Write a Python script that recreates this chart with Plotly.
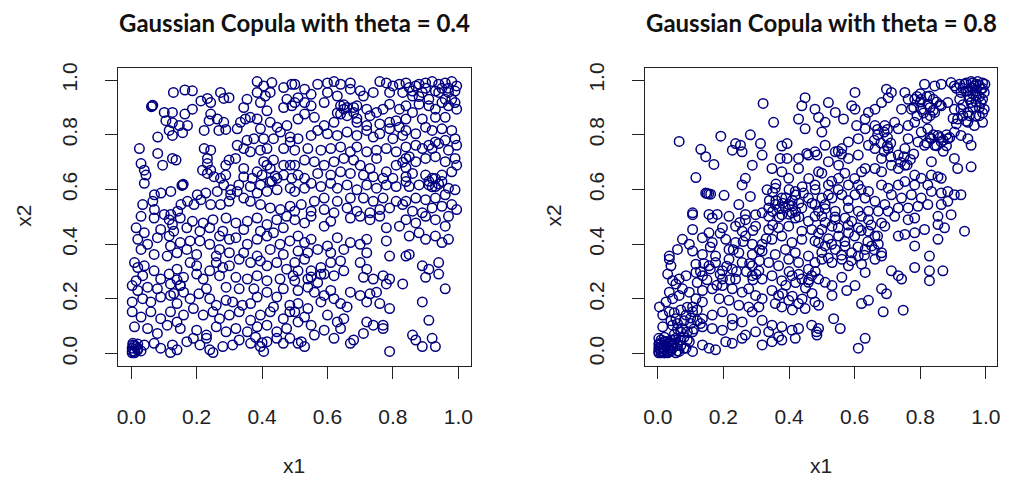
import plotly.graph_objects as go

# ---------------- data ----------------
# Left panel: Gaussian copula, theta = 0.4  -> (x1, x2) pairs
left_upper_left = [
    (0.129,0.955),(0.164,0.964),(0.187,0.961),(0.064,0.906),(0.062,0.903),(0.066,0.908),
    (0.101,0.882),(0.126,0.882),(0.164,0.876),(0.187,0.894),(0.106,0.852),(0.126,0.844),
    (0.147,0.834),(0.116,0.816),(0.081,0.792),(0.126,0.798),(0.157,0.808),(0.172,0.834),
    (0.213,0.924),(0.233,0.933),(0.243,0.918),(0.273,0.955),(0.283,0.933),(0.299,0.936),
    (0.243,0.876),(0.238,0.852),(0.263,0.858),(0.283,0.846),(0.223,0.816),(0.268,0.816),
    (0.289,0.820),(0.324,0.822),(0.334,0.846),(0.349,0.858),(0.364,0.864),(0.385,0.858),
    (0.344,0.900),(0.354,0.930),(0.385,0.955),(0.410,0.942),(0.425,0.955),(0.385,0.995),
    (0.405,0.979),(0.430,0.991),(0.466,0.973),(0.491,0.985),(0.476,0.930),(0.466,0.900),
    (0.491,0.906),(0.395,0.918),(0.415,0.888),(0.425,0.846),(0.446,0.828),(0.395,0.822),
    (0.375,0.786),(0.405,0.786),(0.435,0.786),(0.456,0.810),(0.476,0.834),(0.486,0.792),
    (0.025,0.750),(0.081,0.732),(0.096,0.689),(0.126,0.714),(0.137,0.708),(0.030,0.695),
    (0.040,0.671),(0.045,0.653),(0.040,0.623),(0.157,0.617),(0.155,0.615),(0.159,0.619),
    (0.223,0.750),(0.243,0.744),(0.233,0.714),(0.233,0.695),(0.218,0.671),(0.233,0.659),
    (0.243,0.671),(0.253,0.647),(0.273,0.641),(0.289,0.653),(0.299,0.708),(0.319,0.714),
    (0.289,0.689),(0.324,0.762),(0.344,0.750),(0.354,0.780),(0.364,0.738),(0.395,0.744),
    (0.415,0.750),(0.466,0.750),(0.486,0.774),(0.435,0.708),(0.405,0.702),(0.415,0.689),
    (0.425,0.677),(0.466,0.689),(0.486,0.689),(0.385,0.665),(0.400,0.653),(0.370,0.641),
    (0.344,0.677),(0.344,0.647),(0.329,0.617),(0.364,0.611),(0.395,0.617),(0.425,0.629),
    (0.446,0.641),(0.466,0.653),(0.491,0.641),(0.486,0.605),(0.446,0.599),(0.415,0.593),
    (0.385,0.587),(0.364,0.557),(0.395,0.545),(0.425,0.533),(0.456,0.527),(0.486,0.539),
    (0.344,0.569),(0.324,0.593),(0.304,0.581),(0.299,0.557),(0.273,0.545),(0.243,0.545),
    (0.213,0.563),(0.192,0.545),(0.172,0.557),(0.152,0.545),(0.142,0.521),(0.121,0.509),
    (0.101,0.509),(0.071,0.581),(0.066,0.557),(0.071,0.527),(0.035,0.545),(0.091,0.587),
    (0.121,0.593),(0.202,0.581),(0.228,0.587),(0.263,0.593),(0.283,0.617),(0.304,0.599),
    (0.43,0.63),(0.44,0.65),
]
left_upper_right = [
    (0.50,0.985),(0.53,0.967),(0.57,0.985),(0.60,0.990),(0.62,0.995),(0.64,0.985),(0.67,0.990),
    (0.67,0.967),(0.70,0.961),(0.76,0.995),(0.78,0.990),(0.80,0.979),(0.82,0.985),(0.84,0.990),
    (0.85,0.973),(0.87,0.979),(0.88,0.985),(0.90,0.990),(0.92,0.995),(0.94,0.985),(0.96,0.990),
    (0.98,0.995),(0.995,0.979),(0.97,0.955),(0.94,0.955),(0.89,0.955),(0.86,0.942),(0.83,0.955),
    (0.79,0.955),(0.74,0.955),(0.71,0.942),(0.63,0.942),(0.60,0.955),(0.55,0.948),(0.51,0.936),
    (0.50,0.918),(0.53,0.918),(0.55,0.906),(0.59,0.918),(0.64,0.906),(0.65,0.894),(0.66,0.900),
    (0.68,0.882),(0.64,0.876),(0.69,0.906),(0.72,0.894),(0.73,0.870),(0.75,0.882),(0.77,0.894),
    (0.79,0.912),(0.82,0.894),(0.84,0.906),(0.86,0.882),(0.88,0.912),(0.91,0.906),(0.93,0.894),
    (0.95,0.918),(0.97,0.906),(0.99,0.918),(0.995,0.894),(0.96,0.864),(0.93,0.864),(0.89,0.858),
    (0.84,0.858),(0.81,0.852),(0.79,0.846),(0.76,0.840),(0.72,0.834),(0.69,0.846),(0.62,0.846),
    (0.59,0.834),(0.56,0.864),(0.53,0.876),(0.51,0.858),
    (0.51,0.786),(0.55,0.798),(0.57,0.816),(0.60,0.804),(0.63,0.798),(0.66,0.810),(0.69,0.798),
    (0.72,0.816),(0.74,0.792),(0.76,0.804),(0.79,0.822),(0.82,0.828),(0.84,0.816),(0.83,0.798),
    (0.80,0.786),(0.87,0.804),(0.90,0.828),(0.92,0.816),(0.95,0.822),(0.98,0.816),(0.99,0.786),
    (0.96,0.780),(0.93,0.774),(0.91,0.762),(0.89,0.750),(0.92,0.750),(0.94,0.768),(0.97,0.744),
    (0.995,0.762),(0.87,0.762),(0.84,0.756),(0.81,0.738),(0.78,0.750),(0.75,0.744),(0.72,0.738),
    (0.69,0.756),(0.67,0.738),(0.64,0.756),(0.61,0.750),(0.58,0.744),(0.54,0.750),(0.50,0.744),
    (0.50,0.689),(0.53,0.708),(0.56,0.702),(0.59,0.689),(0.62,0.702),(0.65,0.714),(0.68,0.708),
    (0.70,0.689),(0.73,0.677),(0.75,0.714),(0.78,0.665),(0.81,0.689),(0.84,0.714),(0.87,0.702),
    (0.90,0.714),(0.93,0.720),(0.96,0.702),(0.99,0.714),(0.995,0.689),(0.98,0.665),(0.95,0.653),
    (0.92,0.641),(0.90,0.653),(0.86,0.659),(0.84,0.647),(0.84,0.629),(0.80,0.641),(0.77,0.641),
    (0.74,0.647),(0.71,0.653),(0.67,0.659),(0.64,0.665),(0.61,0.653),(0.57,0.659),(0.53,0.641),
    (0.51,0.653),
    (0.50,0.593),(0.53,0.605),(0.55,0.623),(0.58,0.611),(0.61,0.623),(0.63,0.605),(0.66,0.617),
    (0.69,0.599),(0.72,0.617),(0.75,0.605),(0.78,0.617),(0.81,0.611),(0.85,0.611),(0.88,0.617),
    (0.91,0.617),(0.93,0.611),(0.95,0.629),(0.97,0.605),(0.99,0.599),(0.96,0.581),(0.93,0.569),
    (0.90,0.563),(0.87,0.569),(0.84,0.557),(0.81,0.557),(0.77,0.569),(0.74,0.557),(0.71,0.569),
    (0.67,0.569),(0.63,0.557),(0.59,0.569),(0.56,0.557),(0.52,0.545),(0.50,0.521),(0.55,0.521),
    (0.59,0.527),(0.62,0.515),(0.66,0.533),(0.69,0.521),(0.73,0.515),(0.76,0.527),(0.79,0.533),
    (0.83,0.545),(0.86,0.521),(0.89,0.515),(0.92,0.533),(0.95,0.539),(0.98,0.545),(0.995,0.527),
    (0.86,0.96),(0.88,0.94),(0.90,0.97),(0.91,0.93),(0.93,0.96),(0.95,0.97),(0.97,0.97),
    (0.98,0.93),(0.99,0.96),(0.96,0.93),(0.63,0.88),(0.65,0.91),(0.66,0.87),(0.68,0.90),
    (0.69,0.86),(0.91,0.63),(0.92,0.61),(0.93,0.64),(0.94,0.62),(0.83,0.70),(0.84,0.68),
    (0.85,0.72),
]
left_lower_left = [
    (0.030,0.502),(0.070,0.496),(0.116,0.490),(0.126,0.472),(0.150,0.496),(0.187,0.484),
    (0.220,0.478),(0.250,0.490),(0.290,0.496),(0.320,0.478),(0.355,0.484),(0.385,0.496),
    (0.415,0.472),(0.445,0.490),(0.475,0.502),(0.015,0.460),(0.040,0.442),(0.090,0.454),
    (0.130,0.448),(0.170,0.460),(0.210,0.448),(0.240,0.460),(0.280,0.448),(0.344,0.454),
    (0.395,0.448),(0.435,0.442),(0.465,0.460),
    (0.020,0.418),(0.050,0.400),(0.030,0.381),(0.080,0.424),(0.116,0.430),(0.120,0.394),
    (0.150,0.406),(0.180,0.412),(0.210,0.412),(0.240,0.400),(0.270,0.430),(0.300,0.418),
    (0.320,0.424),(0.355,0.400),(0.385,0.418),(0.415,0.430),(0.455,0.400),(0.485,0.412),
    (0.070,0.363),(0.110,0.357),(0.140,0.369),(0.170,0.381),(0.200,0.363),(0.270,0.381),
    (0.300,0.369),(0.344,0.369),(0.385,0.357),(0.425,0.381),(0.465,0.363),
    (0.010,0.333),(0.020,0.315),(0.035,0.285),(0.015,0.267),(0.040,0.321),(0.070,0.303),
    (0.090,0.273),(0.116,0.291),(0.140,0.309),(0.160,0.279),(0.180,0.333),(0.200,0.291),
    (0.220,0.273),(0.240,0.303),(0.260,0.333),(0.280,0.315),(0.270,0.285),(0.300,0.321),
    (0.330,0.345),(0.365,0.333),(0.395,0.339),(0.415,0.321),(0.445,0.333),(0.475,0.309),
    (0.320,0.279),(0.355,0.273),(0.385,0.285),(0.415,0.267),(0.455,0.273),(0.495,0.285),
    (0.200,0.321),(0.260,0.357),
    (0.003,0.249),(0.020,0.231),(0.050,0.243),(0.080,0.237),(0.003,0.189),(0.035,0.201),
    (0.060,0.189),(0.090,0.207),(0.120,0.213),(0.140,0.183),(0.160,0.225),(0.180,0.201),
    (0.207,0.219),(0.230,0.237),(0.240,0.201),(0.260,0.177),(0.290,0.195),(0.310,0.189),
    (0.340,0.177),(0.365,0.183),(0.385,0.207),(0.415,0.225),(0.445,0.207),(0.465,0.237),
    (0.485,0.177),(0.435,0.171),(0.290,0.243),(0.330,0.237),(0.375,0.237),(0.150,0.249),
    (0.120,0.255),
    (0.003,0.153),(0.030,0.134),(0.060,0.153),(0.090,0.128),(0.120,0.153),(0.140,0.116),
    (0.160,0.141),(0.190,0.165),(0.220,0.141),(0.250,0.153),(0.270,0.128),(0.300,0.141),
    (0.330,0.153),(0.365,0.122),(0.395,0.141),(0.425,0.153),(0.465,0.128),(0.485,0.153),
    (0.010,0.098),(0.050,0.092),(0.080,0.074),(0.110,0.104),(0.150,0.092),(0.200,0.086),
    (0.230,0.068),(0.260,0.098),(0.290,0.080),(0.320,0.092),(0.355,0.080),(0.385,0.098),
    (0.415,0.104),(0.445,0.080),(0.475,0.092),
    (0.005,0.032),(0.003,0.020),(0.010,0.008),(0.015,0.026),(0.005,0.038),(0.020,0.014),
    (0.003,0.003),(0.040,0.032),(0.070,0.038),(0.090,0.020),(0.126,0.032),(0.120,0.004),
    (0.140,0.014),(0.170,0.044),(0.190,0.056),(0.210,0.032),(0.230,0.056),(0.240,0.014),
    (0.250,0.004),(0.280,0.026),(0.310,0.032),(0.330,0.050),(0.365,0.038),(0.395,0.026),
    (0.405,0.008),(0.415,0.044),(0.445,0.056),(0.465,0.038),(0.485,0.056),
    (0.010,0.030),(0.020,0.020),(0.003,0.010),(0.010,0.003),(0.030,0.010),(0.020,0.035),
    (0.14,0.27),(0.15,0.25),(0.13,0.22),(0.38,0.06),(0.40,0.04),
]
left_lower_right = [
    (0.50,0.490),(0.53,0.478),(0.55,0.502),(0.59,0.466),(0.61,0.484),(0.67,0.496),(0.70,0.502),
    (0.73,0.490),(0.76,0.502),(0.78,0.460),(0.82,0.466),(0.84,0.490),(0.87,0.478),(0.90,0.502),
    (0.93,0.490),(0.96,0.466),(0.97,0.502),
    (0.51,0.430),(0.53,0.406),(0.55,0.418),(0.57,0.381),(0.60,0.394),(0.63,0.424),(0.67,0.406),
    (0.70,0.400),(0.72,0.418),(0.72,0.369),(0.78,0.412),(0.79,0.357),(0.84,0.357),(0.85,0.363),
    (0.85,0.430),(0.88,0.442),(0.90,0.418),(0.93,0.430),(0.95,0.406),(0.97,0.418),(0.54,0.369),
    (0.51,0.375),(0.61,0.369),(0.65,0.381),
    (0.50,0.333),(0.53,0.345),(0.51,0.303),(0.55,0.303),(0.58,0.315),(0.61,0.333),(0.64,0.339),
    (0.65,0.303),(0.59,0.291),(0.62,0.285),(0.70,0.333),(0.72,0.309),(0.71,0.279),(0.74,0.273),
    (0.77,0.285),(0.79,0.273),(0.78,0.255),(0.83,0.255),(0.89,0.321),(0.91,0.309),(0.94,0.333),
    (0.90,0.279),(0.94,0.291),(0.50,0.267),(0.54,0.273),
    (0.51,0.231),(0.54,0.243),(0.56,0.225),(0.59,0.213),(0.61,0.231),(0.58,0.189),(0.62,0.201),
    (0.64,0.183),(0.66,0.171),(0.51,0.183),(0.54,0.165),(0.67,0.225),(0.70,0.213),(0.73,0.219),
    (0.75,0.225),(0.72,0.189),(0.76,0.183),(0.79,0.165),(0.96,0.237),(0.89,0.189),
    (0.50,0.153),(0.53,0.134),(0.55,0.104),(0.51,0.116),(0.60,0.141),(0.63,0.116),(0.65,0.128),
    (0.64,0.092),(0.59,0.086),(0.56,0.068),(0.52,0.044),(0.53,0.026),(0.51,0.038),(0.62,0.056),
    (0.67,0.038),(0.68,0.050),(0.71,0.074),(0.72,0.116),(0.74,0.104),(0.77,0.104),(0.77,0.092),
    (0.79,0.008),(0.86,0.068),(0.87,0.050),(0.89,0.026),(0.92,0.056),(0.93,0.026),(0.91,0.122),
    (0.55,0.28),(0.57,0.26),(0.58,0.29),
]

# Right panel: Gaussian copula, theta = 0.8 -> (x1, x2) pairs
right_upper_left = [
    (0.321,0.915),(0.449,0.936),(0.439,0.906),(0.479,0.894),(0.429,0.858),(0.353,0.846),
    (0.449,0.822),(0.065,0.776),(0.192,0.795),(0.282,0.800),(0.237,0.768),(0.252,0.762),
    (0.313,0.768),(0.378,0.759),(0.394,0.768),(0.131,0.747),(0.146,0.720),(0.171,0.692),
    (0.227,0.744),(0.257,0.738),(0.318,0.726),(0.288,0.689),(0.348,0.677),(0.373,0.714),
    (0.394,0.714),(0.429,0.714),(0.459,0.726),(0.454,0.732),(0.479,0.738),(0.378,0.665),
    (0.399,0.641),(0.429,0.677),(0.116,0.644),(0.146,0.587),(0.161,0.583),(0.150,0.586),
    (0.155,0.584),(0.202,0.579),(0.267,0.641),(0.257,0.617),(0.282,0.575),(0.333,0.599),
    (0.358,0.605),(0.378,0.569),(0.399,0.545),(0.419,0.593),(0.444,0.587),(0.459,0.569),
    (0.479,0.617),(0.106,0.515),(0.156,0.509),(0.181,0.509),(0.247,0.545),(0.267,0.509),
    (0.318,0.515),(0.338,0.533),(0.358,0.545),(0.389,0.533),(0.409,0.515),(0.439,0.533),
    (0.479,0.545),(0.350,0.520),(0.370,0.500),(0.400,0.510),(0.420,0.520),(0.380,0.550),
    (0.410,0.560),(0.430,0.500),(0.360,0.560),
    (0.34,0.56),(0.35,0.59),(0.37,0.53),(0.39,0.57),(0.40,0.60),(0.41,0.54),(0.42,0.58),
    (0.43,0.55),(0.44,0.61),(0.36,0.62),(0.46,0.64),(0.48,0.60),(0.47,0.55),
]
right_upper_right = [
    (0.955,0.995),(0.975,0.995),(0.990,0.990),(0.997,0.985),(0.965,0.979),(0.985,0.967),
    (0.945,0.961),(0.995,0.955),(0.970,0.942),(0.955,0.918),(0.985,0.918),(0.995,0.894),
    (0.980,0.870),(0.935,0.985),(0.924,0.955),(0.904,0.979),(0.894,0.991),(0.864,0.985),
    (0.844,0.979),(0.813,0.985),(0.828,0.942),(0.803,0.930),(0.783,0.930),(0.773,0.894),
    (0.803,0.894),(0.823,0.912),(0.844,0.882),(0.864,0.906),(0.884,0.918),(0.904,0.894),
    (0.924,0.894),(0.945,0.882),(0.914,0.858),(0.945,0.846),(0.965,0.834),(0.990,0.846),
    (0.753,0.955),(0.763,0.930),(0.743,0.894),(0.712,0.955),(0.697,0.967),(0.702,0.936),
    (0.682,0.918),(0.662,0.894),(0.642,0.882),(0.632,0.858),(0.601,0.955),(0.591,0.906),
    (0.601,0.894),(0.520,0.918),(0.490,0.864),(0.541,0.882),(0.566,0.858),(0.510,0.846),
    (0.606,0.834),(0.632,0.822),(0.662,0.834),(0.692,0.834),(0.722,0.846),(0.733,0.822),
    (0.763,0.834),(0.783,0.846),(0.803,0.810),(0.823,0.822),(0.834,0.786),(0.854,0.798),
    (0.864,0.774),(0.884,0.786),(0.904,0.810),(0.924,0.798),(0.945,0.786),(0.955,0.762),
    (0.904,0.714),(0.914,0.677),(0.955,0.683),(0.844,0.762),(0.834,0.702),(0.813,0.762),
    (0.793,0.774),(0.763,0.786),(0.753,0.750),(0.733,0.726),(0.702,0.750),(0.682,0.714),
    (0.662,0.750),(0.642,0.762),(0.611,0.786),(0.581,0.774),(0.561,0.750),(0.541,0.738),
    (0.510,0.762),(0.500,0.810),(0.485,0.726),(0.520,0.702),(0.551,0.689),(0.581,0.714),
    (0.611,0.726),(0.632,0.677),(0.621,0.665),(0.662,0.677),(0.682,0.665),(0.712,0.689),
    (0.733,0.677),(0.753,0.689),(0.783,0.653),(0.803,0.641),(0.834,0.653),(0.854,0.647),
    (0.864,0.641),(0.823,0.617),(0.783,0.617),(0.753,0.629),(0.733,0.617),(0.702,0.605),
    (0.682,0.617),(0.642,0.593),(0.611,0.617),(0.581,0.617),(0.551,0.641),(0.520,0.617),
    (0.490,0.665),(0.500,0.569),(0.531,0.569),(0.561,0.581),(0.601,0.581),(0.632,0.569),
    (0.662,0.557),(0.692,0.545),(0.712,0.581),(0.743,0.569),(0.773,0.581),(0.803,0.569),
    (0.834,0.593),(0.864,0.587),(0.884,0.593),(0.904,0.581),(0.924,0.581),(0.864,0.545),
    (0.884,0.557),(0.823,0.545),(0.793,0.539),(0.763,0.533),(0.733,0.533),(0.702,0.521),
    (0.672,0.521),(0.642,0.521),(0.611,0.521),(0.581,0.533),(0.541,0.521),(0.510,0.545),
    (0.490,0.521),
    (0.960,0.970),(0.970,0.960),(0.980,0.980),(0.950,0.940),(0.990,0.930),(0.960,0.990),
    (0.930,0.970),(0.830,0.900),(0.850,0.920),(0.840,0.890),(0.860,0.910),(0.870,0.780),
    (0.880,0.760),(0.890,0.790),(0.690,0.740),(0.700,0.760),(0.710,0.720),(0.550,0.740),
    (0.560,0.730),
    (0.91,0.97),(0.92,0.93),(0.93,0.91),(0.94,0.96),(0.95,0.93),(0.96,0.95),(0.97,0.92),
    (0.98,0.94),(0.99,0.97),(0.97,0.985),(0.94,0.99),(0.92,0.985),(0.96,0.90),(0.98,0.90),
    (0.99,0.88),(0.97,0.87),
    (0.78,0.90),(0.79,0.87),(0.80,0.92),(0.81,0.88),(0.82,0.86),(0.80,0.95),(0.82,0.94),
    (0.84,0.93),(0.83,0.87),(0.79,0.94),
    (0.66,0.78),(0.67,0.80),(0.68,0.77),(0.69,0.81),(0.70,0.79),(0.71,0.77),(0.67,0.82),
    (0.70,0.82),
    (0.82,0.77),(0.83,0.79),(0.85,0.76),(0.86,0.79),(0.87,0.74),(0.84,0.80),(0.88,0.80),
    (0.74,0.70),(0.75,0.72),(0.76,0.69),(0.77,0.71),(0.78,0.73),
    (0.90,0.86),(0.91,0.84),(0.93,0.87),(0.94,0.85),(0.95,0.87),
    (0.50,0.66),(0.52,0.58),(0.53,0.63),(0.55,0.60),(0.57,0.66),(0.58,0.56),(0.60,0.64),
    (0.62,0.60),(0.51,0.53),
]
right_lower_left = [
    (0.106,0.508),(0.166,0.496),(0.217,0.502),(0.267,0.490),(0.298,0.508),(0.338,0.502),
    (0.378,0.508),(0.419,0.496),(0.459,0.484),(0.479,0.502),(0.106,0.454),(0.156,0.442),
    (0.197,0.460),(0.237,0.466),(0.257,0.448),(0.298,0.466),(0.338,0.454),(0.368,0.460),
    (0.399,0.466),(0.439,0.448),(0.469,0.454),
    (0.075,0.418),(0.096,0.400),(0.136,0.424),(0.166,0.406),(0.207,0.418),(0.237,0.406),
    (0.267,0.430),(0.288,0.400),(0.318,0.400),(0.348,0.418),(0.378,0.430),(0.409,0.406),
    (0.439,0.418),(0.479,0.412),(0.035,0.357),(0.060,0.381),(0.106,0.375),(0.136,0.363),
    (0.176,0.357),(0.217,0.381),(0.247,0.369),(0.288,0.363),(0.318,0.375),(0.358,0.363),
    (0.389,0.381),(0.419,0.369),(0.459,0.357),
    (0.035,0.345),(0.040,0.321),(0.030,0.291),(0.045,0.267),(0.065,0.273),(0.086,0.285),
    (0.116,0.297),(0.136,0.285),(0.156,0.321),(0.176,0.333),(0.197,0.303),(0.227,0.309),
    (0.257,0.333),(0.288,0.321),(0.308,0.303),(0.338,0.333),(0.368,0.321),(0.399,0.345),
    (0.429,0.333),(0.459,0.309),(0.479,0.333),(0.116,0.327),(0.217,0.345),(0.288,0.285),
    (0.318,0.273),(0.348,0.285),(0.378,0.267),(0.409,0.285),(0.439,0.273),(0.469,0.285),
    (0.459,0.261),(0.197,0.273),(0.237,0.273),
    (0.055,0.255),(0.075,0.237),(0.035,0.225),(0.005,0.171),(0.025,0.189),(0.045,0.201),
    (0.065,0.213),(0.096,0.225),(0.116,0.201),(0.136,0.231),(0.166,0.237),(0.197,0.249),
    (0.227,0.237),(0.257,0.225),(0.277,0.237),(0.298,0.213),(0.318,0.201),(0.348,0.231),
    (0.368,0.213),(0.399,0.195),(0.429,0.183),(0.449,0.165),(0.479,0.189),(0.187,0.201),
    (0.217,0.195),(0.247,0.177),(0.277,0.171),(0.308,0.171),(0.358,0.183),(0.378,0.171),
    (0.136,0.189),(0.106,0.171),
    (0.015,0.141),(0.035,0.153),(0.055,0.128),(0.086,0.141),(0.106,0.153),(0.136,0.128),
    (0.166,0.141),(0.197,0.153),(0.227,0.128),(0.257,0.116),(0.288,0.153),(0.318,0.122),
    (0.348,0.104),(0.378,0.098),(0.409,0.086),(0.429,0.092),(0.469,0.104),(0.015,0.098),
    (0.045,0.104),(0.075,0.092),(0.106,0.080),(0.136,0.098),(0.166,0.092),(0.197,0.086),
    (0.227,0.104),(0.267,0.068),(0.298,0.080),(0.338,0.080),(0.368,0.062),(0.419,0.056),
    (0.484,0.080),
    (0.003,0.056),(0.005,0.032),(0.003,0.008),(0.010,0.003),(0.015,0.020),(0.025,0.044),
    (0.030,0.005),(0.035,0.014),(0.045,0.032),(0.020,0.003),(0.055,0.056),(0.065,0.008),
    (0.086,0.020),(0.096,0.044),(0.106,0.008),(0.136,0.032),(0.156,0.020),(0.176,0.014),
    (0.207,0.044),(0.227,0.038),(0.257,0.056),(0.318,0.032),(0.348,0.044),(0.378,0.050),
    (0.055,0.003),
    (0.010,0.010),(0.020,0.030),(0.030,0.020),(0.010,0.040),(0.040,0.010),(0.020,0.015),
    (0.005,0.020),(0.030,0.035),(0.040,0.050),(0.060,0.030),(0.070,0.050),(0.050,0.070),
    (0.080,0.060),(0.060,0.090),(0.090,0.080),(0.100,0.110),(0.120,0.120),(0.020,0.060),
    (0.003,0.003),(0.015,0.005),
    (0.12,0.26),(0.13,0.30),(0.15,0.27),(0.16,0.31),(0.18,0.25),(0.19,0.29),(0.21,0.32),
    (0.22,0.27),(0.24,0.30),(0.14,0.33),(0.27,0.30),(0.28,0.33),(0.30,0.29),(0.31,0.34),
    (0.29,0.27),
    (0.38,0.22),(0.39,0.25),(0.41,0.21),(0.42,0.26),(0.43,0.29),(0.44,0.20),(0.45,0.24),
    (0.46,0.27),(0.47,0.22),(0.48,0.30),(0.40,0.30),(0.41,0.16),
    (0.04,0.12),(0.05,0.15),(0.06,0.11),(0.07,0.16),(0.08,0.12),(0.09,0.17),(0.10,0.13),
    (0.11,0.09),(0.12,0.16),(0.13,0.11),(0.07,0.08),(0.05,0.05),
    (0.003,0.02),(0.01,0.05),(0.02,0.003),(0.025,0.025),(0.035,0.04),(0.045,0.02),
    (0.01,0.025),(0.03,0.003),(0.04,0.03),(0.02,0.045),(0.06,0.01),(0.07,0.03),(0.05,0.04),
    (0.08,0.02),(0.09,0.05),(0.003,0.035),
    (0.16,0.39),(0.19,0.44),(0.23,0.38),(0.26,0.41),(0.29,0.45),(0.31,0.38),(0.33,0.42),
    (0.35,0.47),(0.25,0.48),
]
right_lower_right = [
    (0.500,0.502),(0.541,0.490),(0.571,0.496),(0.591,0.484),(0.621,0.502),(0.642,0.490),
    (0.682,0.478),(0.722,0.502),(0.763,0.490),(0.783,0.496),(0.854,0.502),(0.894,0.508),
    (0.500,0.454),(0.531,0.466),(0.551,0.430),(0.581,0.442),(0.611,0.460),(0.642,0.448),
    (0.662,0.430),(0.692,0.466),(0.733,0.430),(0.753,0.436),(0.783,0.442),(0.813,0.454),
    (0.854,0.472),(0.874,0.460),(0.935,0.448),(0.854,0.418),(0.783,0.394),(0.490,0.406),
    (0.510,0.394),(0.541,0.381),(0.571,0.394),(0.591,0.369),(0.611,0.357),(0.632,0.381),
    (0.652,0.394),(0.672,0.400),(0.682,0.369),(0.500,0.345),(0.531,0.333),(0.561,0.345),
    (0.581,0.321),(0.621,0.327),(0.632,0.297),(0.662,0.345),(0.682,0.357),(0.712,0.303),
    (0.733,0.285),(0.743,0.273),(0.783,0.315),(0.828,0.357),(0.828,0.303),(0.828,0.267),
    (0.869,0.303),(0.490,0.273),(0.510,0.261),(0.531,0.249),(0.561,0.279),(0.576,0.231),
    (0.601,0.249),(0.682,0.237),(0.697,0.219),(0.531,0.213),(0.490,0.177),(0.621,0.183),
    (0.642,0.195),(0.687,0.153),(0.748,0.159),(0.536,0.128),(0.556,0.092),(0.490,0.092),
    (0.485,0.068),(0.611,0.020),(0.632,0.056),
    (0.49,0.44),(0.51,0.48),(0.52,0.42),(0.53,0.40),(0.55,0.46),(0.56,0.36),(0.57,0.41),
    (0.58,0.47),(0.59,0.34),(0.60,0.43),(0.61,0.39),(0.62,0.45),(0.63,0.36),(0.64,0.41),
    (0.65,0.47),(0.66,0.38),(0.67,0.43),(0.50,0.37),(0.52,0.35),(0.54,0.50),
]

left_points = left_upper_left + left_upper_right + left_lower_left + left_lower_right
right_points = right_upper_left + right_upper_right + right_lower_left + right_lower_right

tick_values = [0.0, 0.2, 0.4, 0.6, 0.8, 1.0]
tick_labels = ["0.0", "0.2", "0.4", "0.6", "0.8", "1.0"]
titles = ["Gaussian Copula with theta = 0.4", "Gaussian Copula with theta = 0.8"]

# ---------------- figure ----------------
W, H = 1017, 480
MARKER_COLOR = "#000080"

fig = go.Figure()
for pts, xa, ya in [(left_points, "x", "y"), (right_points, "x2", "y2")]:
    fig.add_trace(go.Scatter(
        x=[p[0] for p in pts], y=[p[1] for p in pts],
        xaxis=xa, yaxis=ya, mode="markers",
        marker=dict(symbol="circle-open", size=9.5, color=MARKER_COLOR,
                    line=dict(width=1.5, color=MARKER_COLOR)),
        hoverinfo="skip", showlegend=False,
    ))

tickfont = dict(family="Liberation Sans, Arial, sans-serif", size=21, color="#222222")
axis_common = dict(
    showgrid=False, zeroline=False, showline=True, linecolor="#222222", linewidth=1,
    mirror=True, ticks="outside", ticklen=12, tickwidth=1, tickcolor="#222222",
    tickvals=tick_values, ticktext=tick_labels, tickfont=tickfont, fixedrange=True,
)

def px_x(p):
    return p / W

def px_y(p):
    return 1 - p / H

y_dom = [px_y(364.5), px_y(63.5)]
fig.update_layout(
    width=W, height=H, margin=dict(l=0, r=0, t=0, b=0),
    paper_bgcolor="white", plot_bgcolor="white", showlegend=False,
    xaxis=dict(domain=[px_x(116.7), px_x(471.7)], range=[-0.0404, 1.0386], anchor="y",
               ticklabelstandoff=20, **axis_common),
    yaxis=dict(domain=y_dom, range=[-0.044, 1.045], anchor="x", tickangle=-90,
               ticklabelstandoff=20, **axis_common),
    xaxis2=dict(domain=[px_x(647.3), px_x(1000.7)], range=[-0.0376, 1.0333], anchor="y2",
                ticklabelstandoff=20, **axis_common),
    yaxis2=dict(domain=y_dom, range=[-0.044, 1.045], anchor="x2", tickangle=-90,
                ticklabelstandoff=20, **axis_common),
)

title_font = dict(family="Lato, sans-serif", size=24, color="#111111")
label_font = dict(family="Liberation Sans, Arial, sans-serif", size=21, color="#222222")
annotations = []
for cx, t in [(294.2, titles[0]), (824.0, titles[1])]:
    annotations.append(dict(text="<b>%s</b>" % t, x=px_x(cx), y=px_y(18), xref="paper", yref="paper",
                            showarrow=False, font=title_font, xanchor="center", yanchor="middle"))
    annotations.append(dict(text="x1", x=px_x(cx), y=px_y(465), xref="paper", yref="paper",
                            showarrow=False, font=label_font, xanchor="center", yanchor="middle"))
for cx in [22, 555]:
    annotations.append(dict(text="x2", x=px_x(cx), y=px_y(213), xref="paper", yref="paper",
                            showarrow=False, font=label_font, textangle=-90,
                            xanchor="center", yanchor="middle"))
fig.update_layout(annotations=annotations)

fig.write_html("out.html")
